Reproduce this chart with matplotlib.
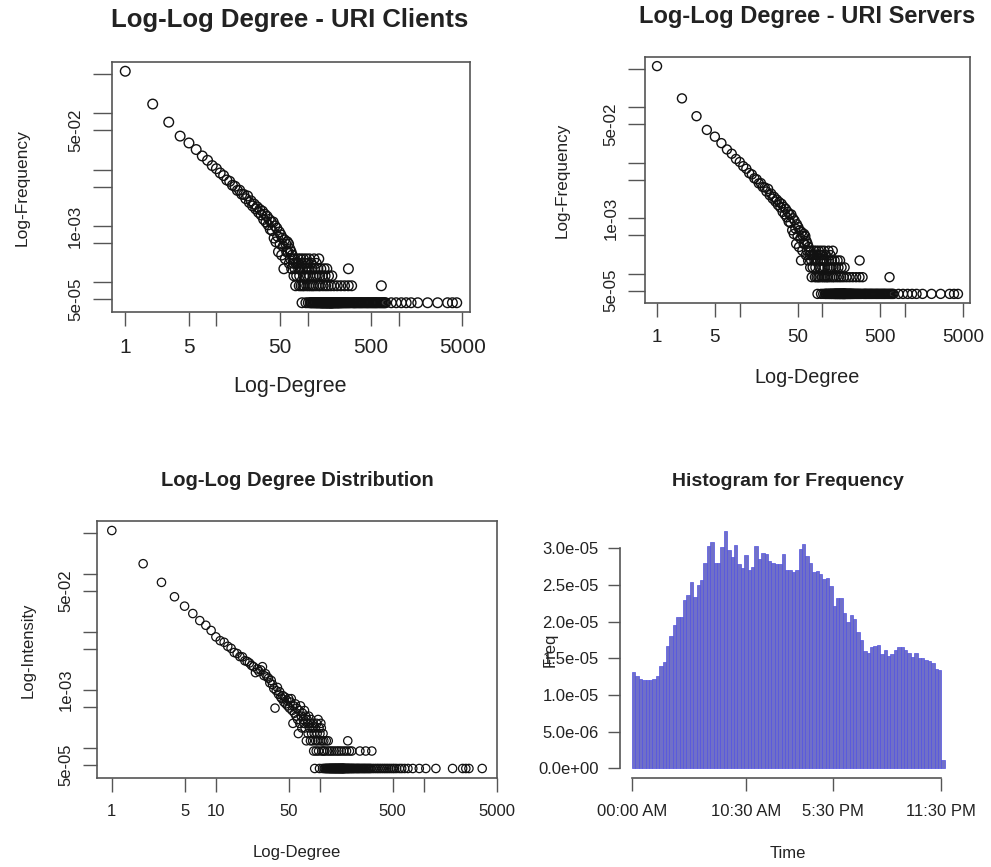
import matplotlib
matplotlib.use('Agg')
import matplotlib.pyplot as plt
from matplotlib.ticker import FixedLocator, FixedFormatter, NullLocator
import numpy as np

plt.rcParams['font.family'] = ['Liberation Sans', 'DejaVu Sans']

# ---- data ----
# degree distribution (URI clients / servers look identical in the source)
TOTAL = 23000  # number of nodes, frequency = count / TOTAL
uri_head_counts = [12700, 3330, 1590, 900, 680, 520, 400, 335, 270, 238,
                   200, 180, 150, 142, 121, 116, 98, 99, 84, 83,
                   70, 78, 60, 64, 52, 56, 46, 50, 40, 45,
                   36, 42, 30, 37, 27, 34, 24, 30, 20, 27,
                   19, 27, 14, 23, 12, 21, 15, 8, 18, 11,
                   16, 7, 14, 10, 4, 13, 6, 11, 8, 12,
                   8, 11, 5, 9, 6, 8, 4, 7, 6, 5,
                   3, 6, 4, 2, 5, 3]  # degrees 1..76
uri_deg_c6 = [79, 84, 90, 97, 105, 118, 133]
uri_deg_c5 = [78, 86, 93, 101, 110, 125]
uri_deg_c4 = [80, 83, 88, 95, 99, 104, 112, 120, 130, 140, 152, 163, 281]
uri_deg_c3 = [82, 91, 94, 100, 106, 115, 122, 128, 136, 145, 156, 170, 185]
uri_deg_c2 = [81, 85, 89, 92, 98, 103, 108, 113, 117, 124, 132, 138, 148,
              158, 168, 180, 195, 212, 232, 255, 280, 305, 646]
uri_deg_c1 = [87, 96, 102, 107, 109, 111, 114, 116, 119, 121, 123, 126, 127,
              129, 131, 134, 135, 137, 139, 141, 142, 143, 144, 146, 147, 149,
              150, 151, 153, 154, 155, 157, 159, 160, 161, 162, 164, 165, 166,
              167, 169, 171, 172, 173, 175, 176, 177, 178, 179, 181, 182, 183,
              184, 186, 187, 188, 189, 191, 193, 196, 198, 200, 203, 205, 208,
              210, 214, 216, 218, 221, 224, 228, 231, 235, 240, 244, 250, 256,
              262, 268, 275, 282, 290, 298, 310, 318, 325, 333, 340, 350, 360,
              370, 380, 390, 400, 412, 425, 438, 450, 462, 475, 490, 505, 520,
              535, 550, 565, 580, 600, 620, 640, 660, 680, 700, 720, 830, 940,
              1070, 1210, 1370, 1620, 2080, 2680, 3440, 3890, 4340]

# overall degree distribution (bottom left)
dist_head_counts = [12700, 3400, 1620, 915, 630, 470, 355, 295, 240, 186,
                    160, 150, 128, 118, 100, 96, 85, 84, 72, 70,
                    66, 60, 57, 45, 52, 47, 50, 57, 40, 43,
                    38, 36, 30, 33, 28, 24, 11, 22, 25, 19,
                    21, 17, 16, 18, 14, 17, 13, 15, 12, 16,
                    11, 14, 16, 10, 6, 12, 9, 13, 8, 11,
                    7, 4, 10, 6, 12, 8, 5, 9, 7, 6,
                    10, 5, 8, 3, 7, 6, 4, 8, 5, 6,
                    3, 7, 4, 5, 3, 6, 2, 4, 1, 5,
                    3, 2, 6, 4, 3, 7, 2, 5, 1, 4,
                    3, 6, 5, 2, 3, 1, 4, 2, 3, 1]  # degrees 1..110
dist_deg_c3 = [115, 120, 185]
dist_deg_c2 = [111, 118, 124, 130, 137, 145, 152, 160, 170, 180, 192, 202,
               242, 275, 315]
dist_deg_c1 = [112, 114, 116, 117, 119, 121, 122, 123, 125, 126, 127, 128,
               129, 131, 132, 133, 134, 135, 136, 138, 139, 140, 141, 142,
               143, 144, 146, 147, 148, 149, 150, 151, 153, 154, 155, 156,
               157, 158, 159, 161, 162, 163, 164, 165, 166, 167, 168, 169,
               171, 172, 174, 176, 178, 181, 183, 186, 188, 190, 194, 197,
               200, 204, 207, 211, 215, 220, 225, 229, 234, 238, 244, 250,
               256, 262, 268, 274, 281, 288, 295, 302, 310, 322, 335, 349,
               362, 376, 391, 407, 423, 440, 458, 478, 500, 520, 545, 580,
               610, 650, 700, 780, 900, 1040, 1300, 1880, 2350, 2520, 2700,
               3620]

# histogram of activity over the day (values in units of 1e-6)
hist_freq_e6 = [13.1, 12.6, 12.2, 12.1, 12.1, 12.1, 12.2, 12.6, 13.9, 14.5,
                16.7, 18.0, 19.5, 20.7, 20.7, 23.0, 23.6, 25.4, 23.4, 25.0,
                25.7, 28.0, 30.3, 30.8, 28.0, 28.0, 30.2, 32.3, 29.8, 28.8,
                30.5, 27.9, 27.3, 29.1, 27.0, 27.5, 30.3, 28.6, 29.4, 29.2,
                28.3, 28.0, 27.9, 27.8, 29.2, 27.0, 27.0, 26.8, 27.1, 29.9,
                30.6, 28.9, 28.0, 26.8, 26.9, 26.5, 25.8, 26.0, 24.8, 22.1,
                23.2, 23.2, 21.2, 20.0, 20.9, 20.3, 18.6, 17.5, 16.0, 15.7,
                16.5, 16.7, 16.8, 15.6, 16.1, 15.3, 15.6, 16.1, 16.6, 16.6,
                16.2, 15.7, 15.2, 15.7, 15.0, 15.0, 14.8, 14.7, 14.3, 13.6,
                13.4, 1.1]
time_tick_pos = [0, 33.5, 59.2, 91]
time_tick_labels = ['00:00 AM', '10:30 AM', '5:30 PM', '11:30 PM']

log_y_ticks = [5e-1, 1e-1, 5e-2, 1e-2, 5e-3, 1e-3, 5e-4, 1e-4, 5e-5]
log_y_labels = ['', '', '5e-02', '', '', '1e-03', '', '', '5e-05']
log_x_ticks = [1, 5, 10, 50, 100, 500, 1000, 5000]
top_x_labels = ['1', '5', '', '50', '', '500', '', '5000']
bottom_x_labels = ['1', '5', '10', '50', '', '500', '', '5000']


def to_points(head_counts, tails):
    deg = list(range(1, len(head_counts) + 1))
    cnt = list(head_counts)
    for c, degs in tails:
        deg += degs
        cnt += [c] * len(degs)
    return np.array(deg), np.array(cnt) / TOTAL


uri_x, uri_y = to_points(uri_head_counts, [(6, uri_deg_c6), (5, uri_deg_c5),
                                           (4, uri_deg_c4), (3, uri_deg_c3),
                                           (2, uri_deg_c2), (1, uri_deg_c1)])
dist_x, dist_y = to_points(dist_head_counts, [(3, dist_deg_c3), (2, dist_deg_c2),
                                              (1, dist_deg_c1)])

W, H = 991, 867
fig = plt.figure(figsize=(W / 100, H / 100), dpi=100)
INK = '#222222'
BOX = '#555555'


def rect(l, t, r, b):
    return [l / W, 1 - b / H, (r - l) / W, (b - t) / H]


def put(x, y, s, **kw):
    fig.text(x / W, 1 - y / H, s, ha='center', va='center', color=INK, **kw)


def loglog_panel(r, x, y, xlabels, xfs, yfs, ms, mlw, xlen, ylen, xpad, ypad):
    ax = fig.add_axes(rect(*r))
    ax.scatter(x, y, s=ms, facecolors='none', edgecolors='#111111', linewidths=mlw)
    ax.set_xscale('log')
    ax.set_yscale('log')
    ax.margins(0.04)
    ax.xaxis.set_major_locator(FixedLocator(log_x_ticks))
    ax.xaxis.set_major_formatter(FixedFormatter(xlabels))
    ax.yaxis.set_major_locator(FixedLocator(log_y_ticks))
    ax.yaxis.set_major_formatter(FixedFormatter(log_y_labels))
    ax.xaxis.set_minor_locator(NullLocator())
    ax.yaxis.set_minor_locator(NullLocator())
    ax.tick_params(axis='x', length=xlen, width=1, color=BOX, pad=xpad,
                   labelsize=xfs, labelcolor=INK)
    ax.tick_params(axis='y', length=ylen, width=1, color=BOX, pad=ypad,
                   labelsize=yfs, labelcolor=INK, labelrotation=90)
    plt.setp(ax.get_yticklabels(), va='center')
    for sp in ax.spines.values():
        sp.set_color(BOX)
        sp.set_linewidth(1.2)
    return ax


# top left
loglog_panel((112, 62, 470, 312), uri_x, uri_y, top_x_labels, 15, 12.2, 48, 1.0, 10, 14, 9, 7)
put(290, 20, 'Log-Log Degree - URI Clients', fontsize=18.5, fontweight='bold')
put(290, 387, 'Log-Degree', fontsize=15.5)
put(22, 188, 'Log-Frequency', fontsize=12.5, rotation=90)

# top right
loglog_panel((645, 57, 970, 303), uri_x, uri_y, top_x_labels, 13.6, 12.2, 42, 1.0, 10, 12, 9, 7)
put(807, 17, 'Log-Log Degree - URI Servers', fontsize=17, fontweight='bold')
put(807, 377, 'Log-Degree', fontsize=14.3)
put(562, 180, 'Log-Frequency', fontsize=12.3, rotation=90)

# bottom left
loglog_panel((97, 521, 497, 778), dist_x, dist_y, bottom_x_labels, 12, 12, 36, 0.9, 10, 10, 9, 7)
put(297, 480, 'Log-Log Degree Distribution', fontsize=14.5, fontweight='bold')
put(297, 853, 'Log-Degree', fontsize=12)
put(28, 650, 'Log-Intensity', fontsize=12, rotation=90)

# bottom right: histogram
heights = np.array(hist_freq_e6) * 1e-6
n = len(heights)
ax = fig.add_axes(rect(619.5, 522, 957.3, 777.8))
ax.bar(np.arange(n), heights, width=1, align='edge',
       facecolor='#7070c8', edgecolor='#5252e0', linewidth=0.5)
ax.set_xlim(-0.04 * n, 1.04 * n)
ax.set_ylim(-0.04 * heights.max(), 1.04 * heights.max())
yt = [0, 5e-6, 1e-5, 1.5e-5, 2e-5, 2.5e-5, 3e-5]
ax.set_yticks(yt)
ax.set_yticklabels(['%.1e' % v for v in yt])
ax.set_xticks(time_tick_pos)
ax.set_xticklabels(time_tick_labels)
for side in ('top', 'right'):
    ax.spines[side].set_visible(False)
ax.spines['left'].set_bounds(0, 3e-5)
ax.spines['bottom'].set_bounds(time_tick_pos[0], time_tick_pos[-1])
for side in ('left', 'bottom'):
    ax.spines[side].set_color(BOX)
    ax.spines[side].set_linewidth(1.2)
ax.tick_params(axis='both', length=9, width=1, color=BOX, labelsize=12,
               labelcolor=INK)
ax.tick_params(axis='x', pad=10)
ax.tick_params(axis='y', pad=6)
put(788, 481, 'Histogram for Frequency', fontsize=14, fontweight='bold')
put(788, 853, 'Time', fontsize=12)
put(550, 650, 'Freq', fontsize=12, rotation=90)

fig.savefig('out.png', dpi=100)
